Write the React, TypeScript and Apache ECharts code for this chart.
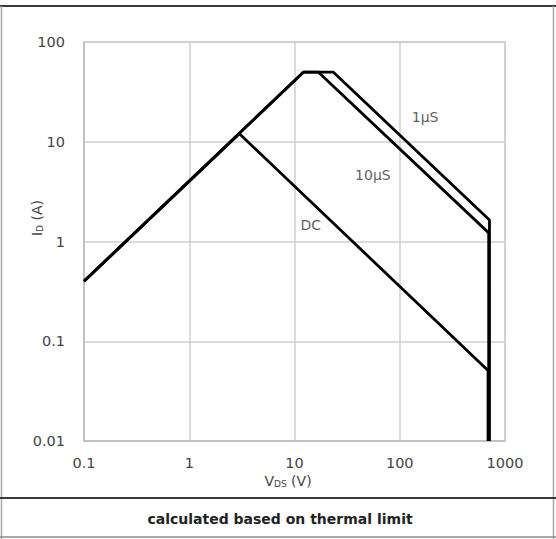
import React, { useEffect, useRef } from "react";
import * as echarts from "echarts";

// Safe operating area data (VDS in V, ID in A)
const dcV = [0.1, 3, 690, 690];
const dcI = [0.4, 12, 0.051, 0.01];
const p10V = [0.1, 12.2, 16.8, 700, 700];
const p10I = [0.4, 50, 50, 1.22, 0.01];
const p1V = [0.1, 12.2, 23.3, 712, 712];
const p1I = [0.4, 50, 50, 1.64, 0.01];

const labelNames = ["1µS", "10µS", "DC"];
const labelV = [174, 55.6, 14.3];
const labelI = [17.6, 4.6, 1.45];

const xMin = 0.1;
const xMax = 1000;
const yMin = 0.01;
const yMax = 100;

const FONT = "DejaVu Sans";

const zip = (a: number[], b: number[]) => a.map((v, i) => [v, b[i]]);

const fmt = (v: number) => String(parseFloat(Number(v).toPrecision(2)));

export default function App() {
  const ref = useRef<HTMLDivElement>(null);
  useEffect(() => {
    if (!ref.current) return;
    const chart = echarts.init(ref.current, undefined, { renderer: "svg" });
    const lineStyle = { color: "#000", width: 2.8 };
    chart.setOption({
      animation: false,
      backgroundColor: "#fff",
      grid: {
        left: 84,
        top: 42,
        right: 51,
        bottom: 98,
        show: true,
        borderColor: "#c4c4c4",
        borderWidth: 1.5,
      },
      xAxis: {
        type: "log",
        logBase: 10,
        min: xMin,
        max: xMax,
        splitNumber: 4,
        axisLine: { show: true, lineStyle: { color: "#bdbdbd", width: 1.5 } },
        axisTick: { show: false },
        splitLine: { show: true, lineStyle: { color: "#cfcfcf", width: 1.5 } },
        axisLabel: {
          formatter: fmt,
          color: "#444",
          fontSize: 14.5,
          fontFamily: FONT,
          margin: 14,
        },
      },
      yAxis: {
        type: "log",
        logBase: 10,
        min: yMin,
        max: yMax,
        splitNumber: 4,
        axisLine: { show: true, lineStyle: { color: "#bdbdbd", width: 1.5 } },
        axisTick: { show: false },
        splitLine: { show: true, lineStyle: { color: "#cfcfcf", width: 1.5 } },
        axisLabel: {
          formatter: fmt,
          color: "#444",
          fontSize: 14.5,
          fontFamily: FONT,
          margin: 19,
          verticalAlign: "middle",
        },
      },
      series: [
        {
          name: "DC",
          type: "line",
          data: zip(dcV, dcI),
          symbol: "none",
          lineStyle,
          clip: false,
        },
        {
          name: "10µS",
          type: "line",
          data: zip(p10V, p10I),
          symbol: "none",
          lineStyle,
          clip: false,
        },
        {
          name: "1µS",
          type: "line",
          data: zip(p1V, p1I),
          symbol: "none",
          lineStyle,
          clip: false,
        },
        {
          type: "scatter",
          symbolSize: 0,
          data: labelNames.map((n, i) => ({ name: n, value: [labelV[i], labelI[i]] })),
          label: {
            show: true,
            position: "inside",
            formatter: (p: any) => p.name,
            color: "#333",
            fontSize: 14,
            fontFamily: FONT,
          },
          silent: true,
        },
      ],
      graphic: [
        { type: "line", shape: { x1: 0, y1: 6, x2: 556, y2: 6 }, style: { stroke: "#3a3a3a", lineWidth: 2 } },
        { type: "line", shape: { x1: 1.5, y1: 6, x2: 1.5, y2: 539 }, style: { stroke: "#a8a8a8", lineWidth: 1.5 } },
        { type: "line", shape: { x1: 553.5, y1: 6, x2: 553.5, y2: 539 }, style: { stroke: "#a8a8a8", lineWidth: 1.5 } },
        { type: "line", shape: { x1: 0, y1: 498, x2: 556, y2: 498 }, style: { stroke: "#3a3a3a", lineWidth: 2 } },
        { type: "line", shape: { x1: 0, y1: 537, x2: 556, y2: 537 }, style: { stroke: "#8a8a8a", lineWidth: 1.5 } },
        {
          type: "text",
          x: 288,
          y: 481,
          style: {
            text: "{a|V}{b|DS}{a| (V)}",
            align: "center",
            verticalAlign: "middle",
            rich: {
              a: { fontSize: 14, fontFamily: FONT, fill: "#444", verticalAlign: "bottom" },
              b: { fontSize: 9, fontFamily: FONT, fill: "#444", verticalAlign: "bottom" },
            },
          },
        },
        {
          type: "text",
          x: 37,
          y: 218,
          rotation: Math.PI / 2,
          style: {
            text: "{a|I}{b|D}{a| (A)}",
            align: "center",
            verticalAlign: "middle",
            rich: {
              a: { fontSize: 14, fontFamily: FONT, fill: "#444", verticalAlign: "bottom" },
              b: { fontSize: 9, fontFamily: FONT, fill: "#444", verticalAlign: "bottom" },
            },
          },
        },
        {
          type: "text",
          x: 280,
          y: 519,
          style: {
            text: "calculated based on thermal limit",
            align: "center",
            verticalAlign: "middle",
            fontSize: 14,
            fontWeight: "bold",
            fontFamily: FONT,
            fill: "#222",
          },
        },
      ],
    });
    return () => chart.dispose();
  }, []);
  return (
    <div
      ref={ref}
      style={{ position: "absolute", left: 0, top: 0, width: 556, height: 539 }}
    />
  );
}
